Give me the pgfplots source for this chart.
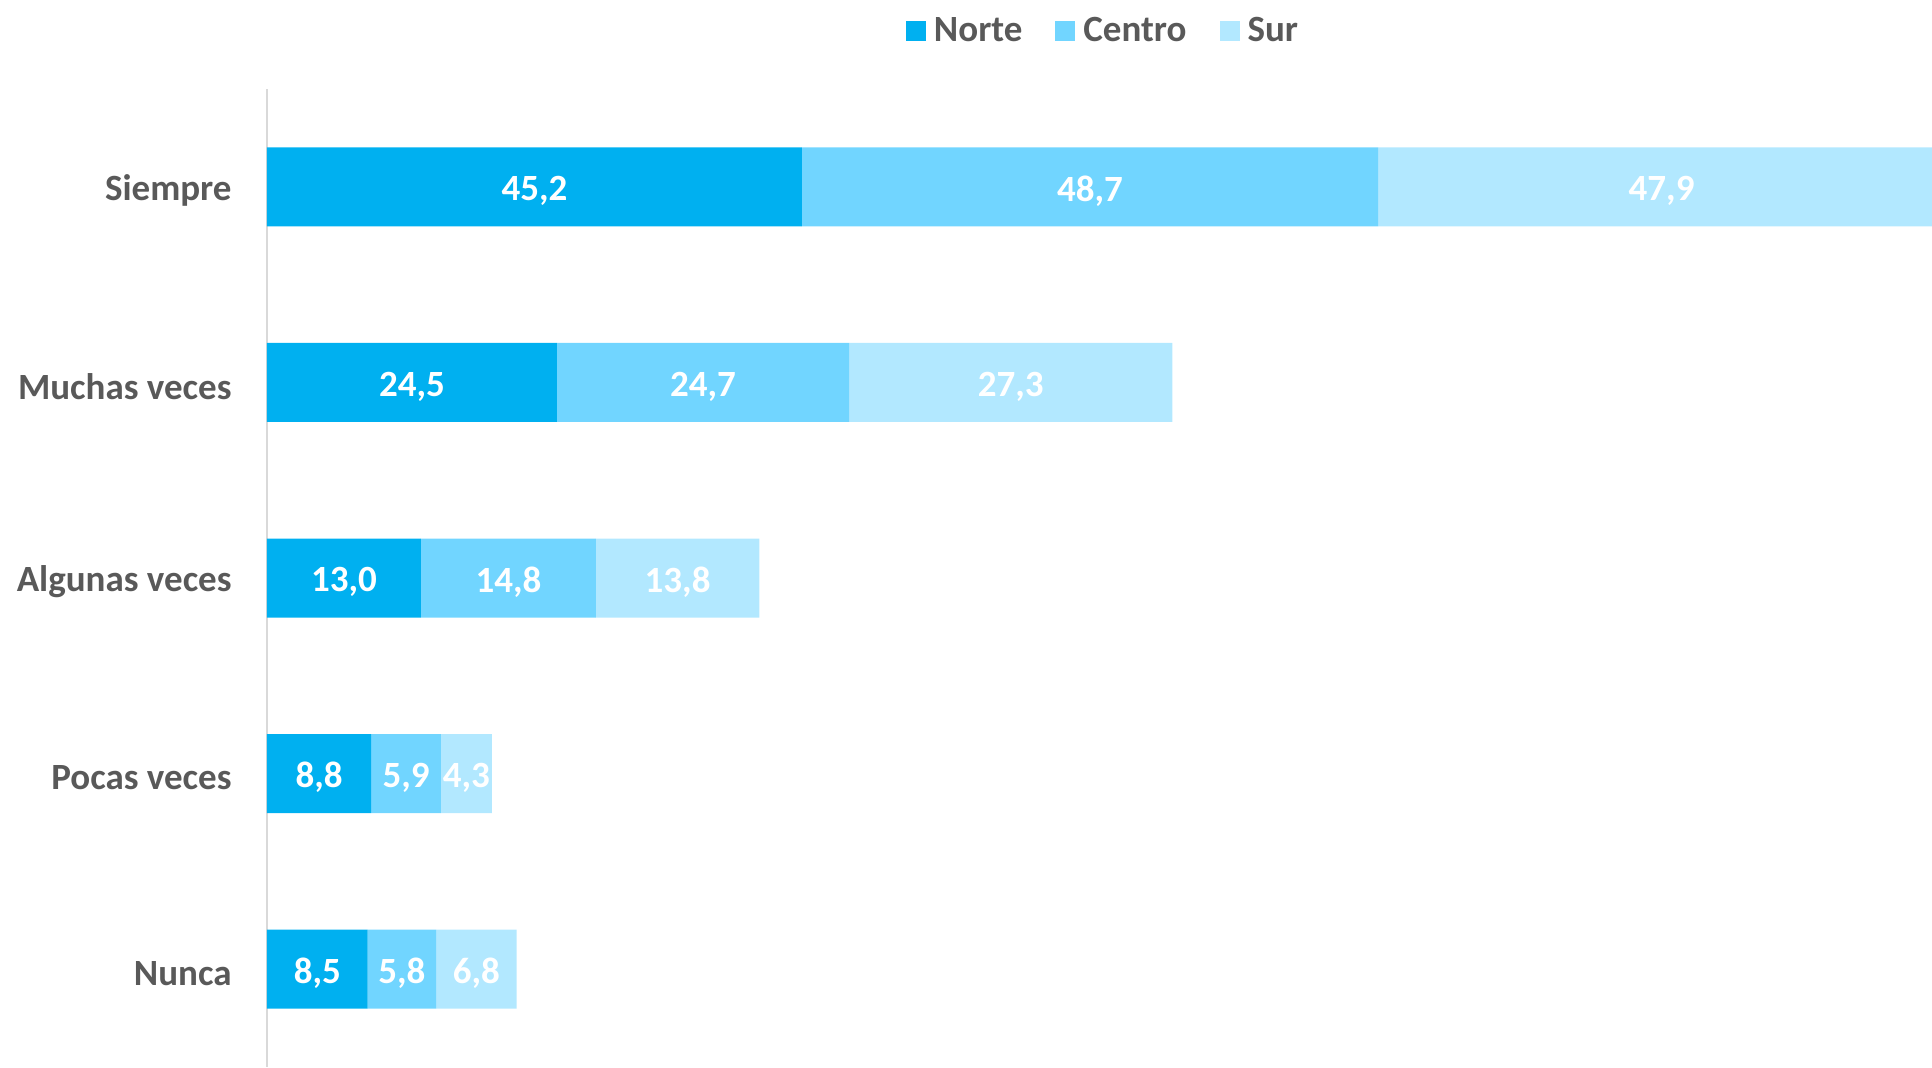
\documentclass[border=0pt]{standalone}
\usepackage{pgfplots}
\pgfplotsset{compat=1.18}
\usepackage{pgfplotstable}
\usepackage{fontspec}
\setmainfont{Carlito}
\definecolor{norte}{HTML}{00B0F0}
\definecolor{centro}{HTML}{71D5FF}
\definecolor{sur}{HTML}{B2E8FF}
\definecolor{txt}{HTML}{595959}
\definecolor{axl}{HTML}{D9D9D9}
\pgfplotstableread{
idx norte centro sur
0 45.2 48.7 47.9
1 24.5 24.7 27.3
2 13.0 14.8 13.8
3 8.8 5.9 4.3
4 8.5 5.8 6.8
}\datatab
\begin{document}
\begin{tikzpicture}
\begin{axis}[
  at={(0,0)}, anchor=south west,
  scale only axis,
  width=839.0pt, height=489pt,
  xbar stacked,
  bar width=39.5pt,
  xmin=0, xmax=141.8,
  ymin=-0.5, ymax=4.5,
  y dir=reverse,
  axis x line=none,
  axis y line=left,
  y axis line style={draw=axl, line width=1.2pt, -},
  ytick={0,1,2,3,4},
  yticklabels={Siempre,Muchas veces,Algunas veces,Pocas veces,Nunca},
  major tick length=0pt,
  yticklabel style={font=\fontsize{18.5}{22}\selectfont\bfseries, text=txt, anchor=east, inner sep=0pt, xshift=-17.5pt, yshift=-2pt},
  clip=true,
  legend style={at={(0.5,1)}, anchor=center, yshift=29pt, xshift=-1pt, draw=none, fill=none,
    font=\fontsize{18.5}{22}\selectfont\bfseries, text=txt, legend columns=3,
    /tikz/every odd column/.append style={column sep=2pt},
    /tikz/every even column/.append style={column sep=14.5pt}},
  legend image code/.code={\fill[#1] (0pt,-5pt) rectangle (10pt,5pt);},
  nodes near coords,
  every node near coord/.append style={font=\fontsize{18.5}{22}\selectfont\bfseries, text=white, anchor=center, yshift=-2pt},
  /pgf/number format/.cd, use comma, fixed, fixed zerofill, precision=1, assume math mode=true,
]
\addplot[fill=norte, draw=none, point meta=\thisrow{norte}]
  table[x=norte, y=idx] {\datatab};
\addlegendentry{Norte}
\addplot[fill=centro, draw=none, point meta=\thisrow{centro}]
  table[x=centro, y=idx] {\datatab};
\addlegendentry{Centro}
\addplot[fill=sur, draw=none, point meta=\thisrow{sur}]
  table[x=sur, y=idx] {\datatab};
\addlegendentry{Sur}
\end{axis}
\pgfresetboundingbox
\path[use as bounding box] (-133.5pt,0pt) rectangle (832.5pt,533.5pt);
\end{tikzpicture}
\end{document}
